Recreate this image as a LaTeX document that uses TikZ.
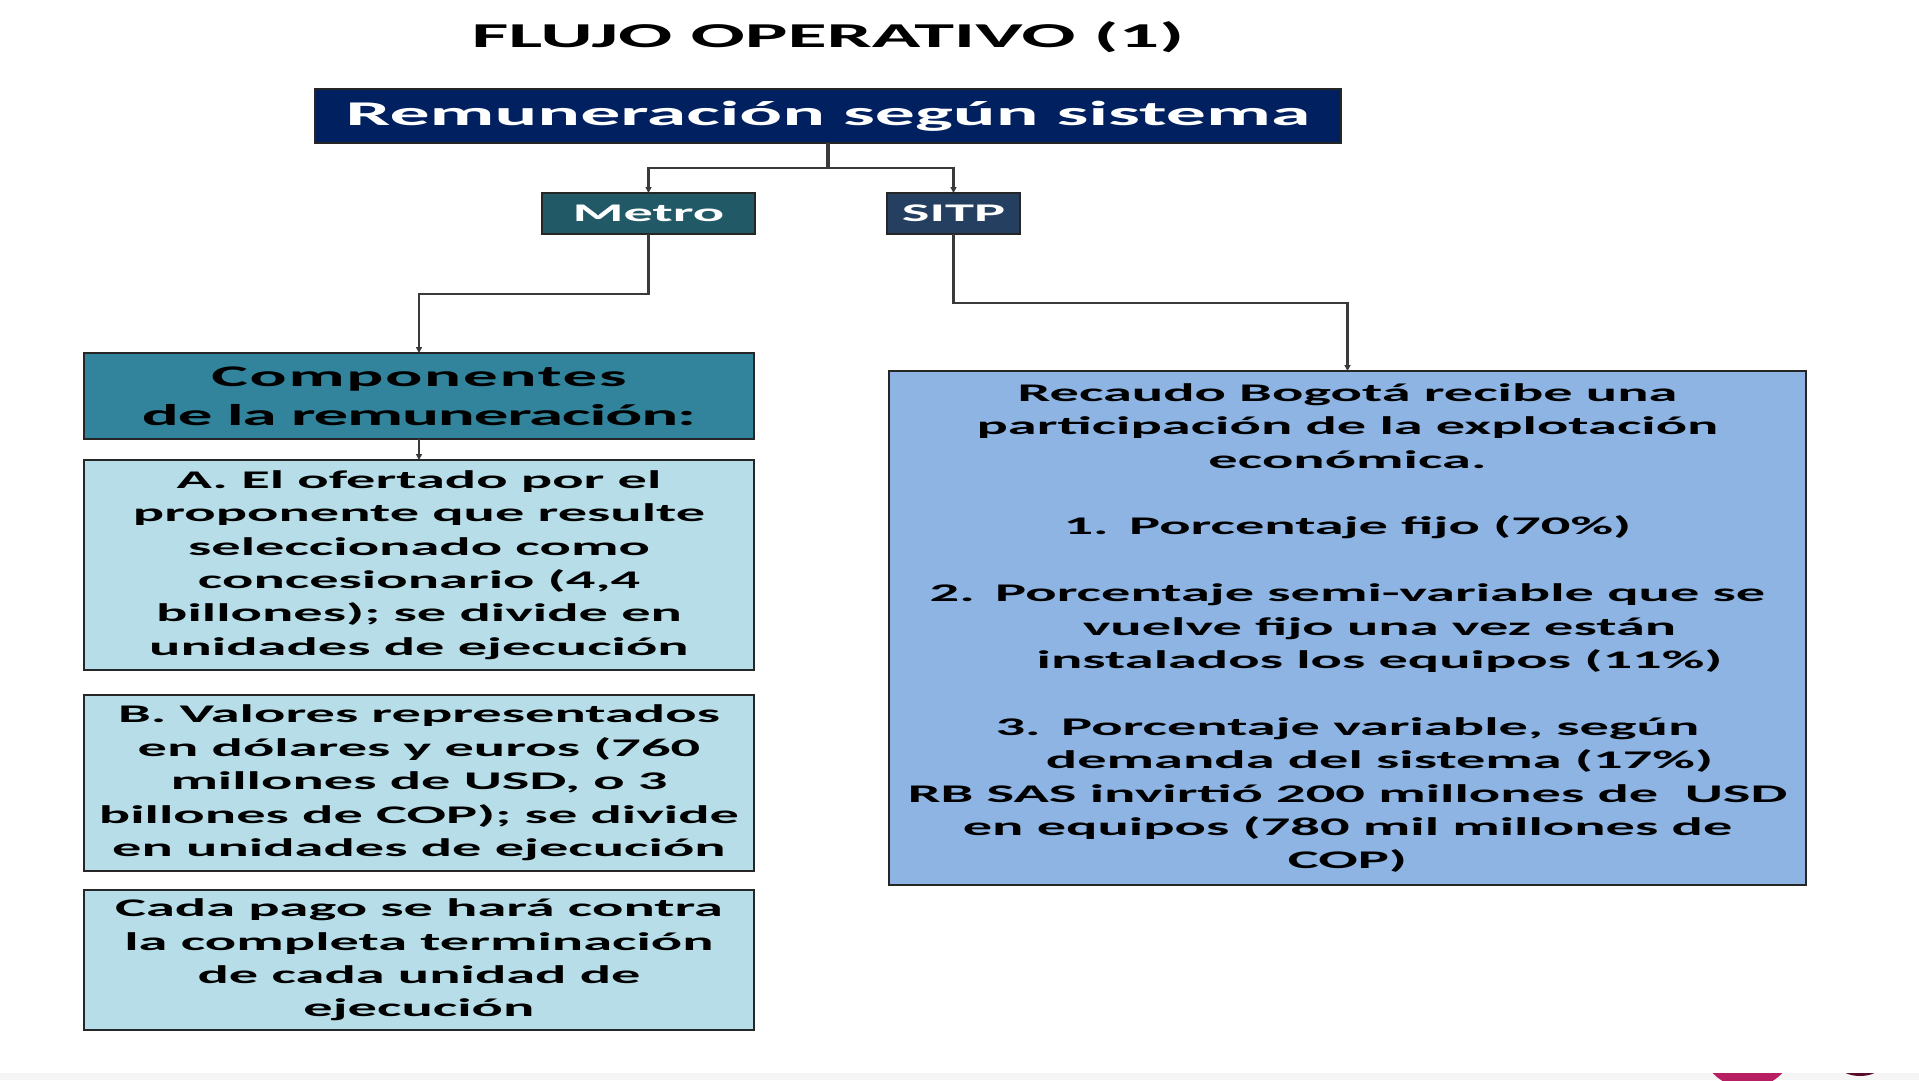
\documentclass[tikz,border=0pt]{standalone}
\usepackage{fontspec}
\setmainfont{Carlito}
\newfontfamily\calibri[FakeStretch=2.3]{Carlito}
\usetikzlibrary{arrows.meta}

\definecolor{navy}{HTML}{002060}
\definecolor{metroteal}{HTML}{215967}
\definecolor{sitpblue}{HTML}{243F60}
\definecolor{compteal}{HTML}{31849B}
\definecolor{celeste}{HTML}{B7DEE8}
\definecolor{azulclaro}{HTML}{8DB4E2}
\definecolor{linea}{HTML}{3A3A3A}
\definecolor{rosa}{HTML}{B81F62}
\definecolor{vino}{HTML}{5A0A2A}

\tikzset{
  caja/.style={draw=black!85, line width=1.5pt, inner sep=0pt, outer sep=0pt, align=center},
  texto/.style={font=\calibri\bfseries\fontsize{25.4}{33.4}\selectfont},
  conector/.style={draw=linea, line width=2.5pt, -{Triangle[length=6pt,width=6pt]}},
}

\begin{document}
\begin{tikzpicture}[x=1pt,y=-1pt]
\useasboundingbox (0,0) rectangle (1919,1080);
\fill[white] (0,0) rectangle (1919,1080);

% titulo y caja principal
\node[anchor=base, font=\calibri\bfseries\fontsize{34.9}{42}\selectfont] (titulo) at (828,47) {FLUJO OPERATIVO (1)};
\node[caja, fill=navy, text=white, minimum width=1026, minimum height=54,
  font=\calibri\bfseries\fontsize{34.7}{42}\selectfont] (remun) at (828,116) {Remuneración según sistema};

% sistemas
\node[caja, texto, fill=metroteal, text=white, minimum width=213, minimum height=41] (metro) at (648.5,213.5) {Metro};
\node[caja, texto, fill=sitpblue, text=white, minimum width=133, minimum height=41] (sitp) at (953.5,213.5) {SITP};

% columna Metro
\node[caja, fill=compteal, minimum width=670, minimum height=86,
  font=\calibri\bfseries\fontsize{30}{39}\selectfont] (comp) at (419,396)
  {{\addfontfeature{LetterSpace=6}Componentes}\\{\addfontfeature{LetterSpace=-4}de la remuneración:}};
\node[caja, texto, fill=celeste, minimum width=670, minimum height=210] (compA) at (419,565)
  {A. El ofertado por el\\proponente que resulte\\seleccionado como\\concesionario (4,4\\billones); se divide en\\unidades de ejecución};
\node[caja, texto, fill=celeste, minimum width=670, minimum height=176] (compB) at (419,783)
  {B. Valores representados\\en dólares y euros (760\\millones de USD, o 3\\billones de COP); se divide\\en unidades de ejecución};
\node[caja, texto, fill=celeste, minimum width=670, minimum height=140] (compC) at (419,960)
  {Cada pago se hará contra\\la completa terminación\\de cada unidad de\\ejecución};

% columna SITP
\node[caja, texto, fill=azulclaro, minimum width=917, minimum height=514] (recaudo) at (1347.5,628)
  {Recaudo Bogotá recibe una\\participación de la explotación\\económica.\\[33.4pt]
   1.\hspace{0.8em}Porcentaje fijo (70\%)\\[33.4pt]
   2.\hspace{0.8em}Porcentaje semi-variable que se\\
   \hspace*{64pt}vuelve fijo una vez están\\
   \hspace*{64pt}instalados los equipos (11\%)\\[33.4pt]
   3.\hspace{0.8em}Porcentaje variable, según\\
   \hspace*{64pt}demanda del sistema (17\%)\\
   RB SAS invirtió 200 millones de \ USD\\en equipos (780 mil millones de\\COP)};

% conectores
\draw[draw=linea, line width=4pt] (remun.south) -- (828,168) coordinate (rama);
\draw[conector] (rama) -| (metro.north);
\draw[conector] (rama) -| (sitp.north);
\draw[conector] (metro.south) -- ++(0,60) -| (comp.north);
\draw[conector] (sitp.south) -- ++(0,69) -| (recaudo.north);
\draw[conector] (comp.south) -- (compA.north);

% franja inferior
\fill[black!4] (0,1073) rectangle (1919,1080);
\begin{scope}
\clip (0,1073) rectangle (1919,1080);
\fill[rosa] (1747.5,1040) circle (48);
\fill[vino] (1860,1066) ellipse (20 and 10);
\end{scope}
\end{tikzpicture}
\end{document}
